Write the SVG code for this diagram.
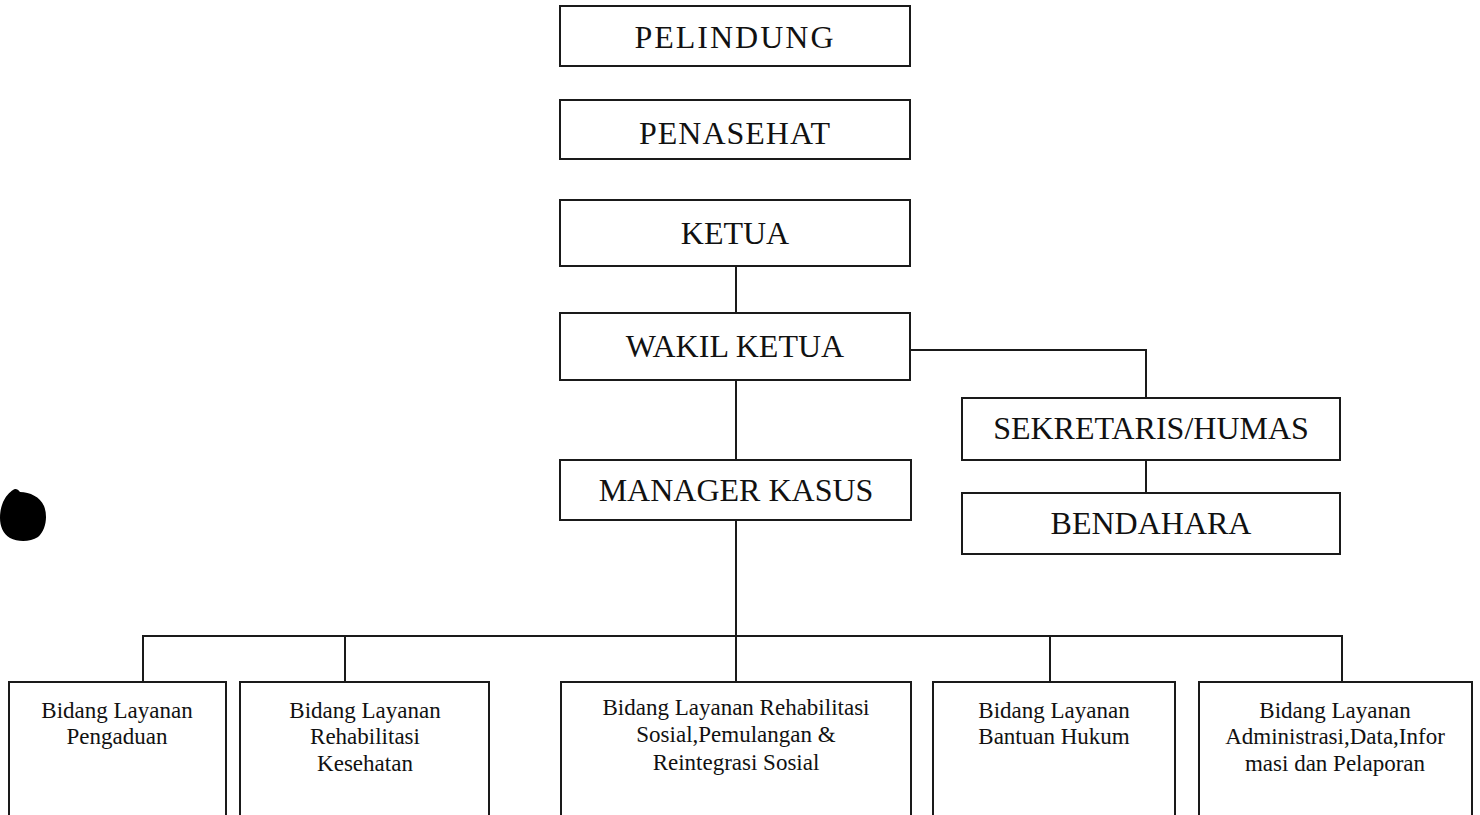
<svg xmlns="http://www.w3.org/2000/svg" width="1480" height="815" viewBox="0 0 1480 815">
<style>
.box{fill:#fff;stroke:#1a1a1a;stroke-width:2}
.con{fill:none;stroke:#1a1a1a;stroke-width:2}
.t{font-family:"Liberation Serif","Times New Roman",serif;font-size:32px;fill:#111;text-anchor:middle}
.s{font-family:"Liberation Serif","Times New Roman",serif;font-size:23px;fill:#111;text-anchor:middle}
</style>
<rect width="1480" height="815" fill="#fff"/>
<g id="connectors">
<path class="con" d="M736 266V313"/>
<path class="con" d="M736 380V460"/>
<path class="con" d="M910 350H1146V398"/>
<path class="con" d="M1146 460V493"/>
<path class="con" d="M736 520V682"/>
<path class="con" d="M143 682V636H1342V682"/>
<path class="con" d="M345 636V682"/>
<path class="con" d="M1050 636V682"/>
</g>
<g id="pelindung"><rect class="box" x="560" y="6" width="350" height="60"/><text class="t" x="735" y="48" letter-spacing="2">PELINDUNG</text></g>
<g id="penasehat"><rect class="box" x="560" y="100" width="350" height="59"/><text class="t" x="735" y="144" letter-spacing="1">PENASEHAT</text></g>
<g id="ketua"><rect class="box" x="560" y="200" width="350" height="66"/><text class="t" x="735" y="244">KETUA</text></g>
<g id="wakil-ketua"><rect class="box" x="560" y="313" width="350" height="67"/><text class="t" x="735" y="357">WAKIL KETUA</text></g>
<g id="sekretaris"><rect class="box" x="962" y="398" width="378" height="62"/><text class="t" x="1151" y="439">SEKRETARIS/HUMAS</text></g>
<g id="bendahara"><rect class="box" x="962" y="493" width="378" height="61"/><text class="t" x="1151" y="534">BENDAHARA</text></g>
<g id="manager-kasus"><rect class="box" x="560" y="460" width="351" height="60"/><text class="t" x="736" y="501">MANAGER KASUS</text></g>
<g id="bidang-pengaduan"><rect class="box" x="9" y="682" width="217" height="140"/><text class="s" x="117" y="718">Bidang Layanan</text><text class="s" x="117" y="744">Pengaduan</text></g>
<g id="bidang-kesehatan"><rect class="box" x="240" y="682" width="249" height="140"/><text class="s" x="365" y="718">Bidang Layanan</text><text class="s" x="365" y="744">Rehabilitasi</text><text class="s" x="365" y="771">Kesehatan</text></g>
<g id="bidang-sosial"><rect class="box" x="561" y="682" width="350" height="140"/><text class="s" x="736" y="715">Bidang Layanan Rehabilitasi</text><text class="s" x="736" y="742">Sosial,Pemulangan &amp;</text><text class="s" x="736" y="770">Reintegrasi Sosial</text></g>
<g id="bidang-hukum"><rect class="box" x="933" y="682" width="242" height="140"/><text class="s" x="1054" y="718">Bidang Layanan</text><text class="s" x="1054" y="744">Bantuan Hukum</text></g>
<g id="bidang-administrasi"><rect class="box" x="1199" y="682" width="273" height="140"/><text class="s" x="1335" y="718">Bidang Layanan</text><text class="s" x="1335" y="744">Administrasi,Data,Infor</text><text class="s" x="1335" y="771">masi dan Pelaporan</text></g>
<path id="blob" fill="#000" d="M2 505C5 496 10 492 13 490C15 488 18 489 20 492C30 492 40 497 44 506C48 516 46 530 38 537C30 542 18 542 10 538C3 534 0 526 0 518C0 512 1 508 2 505Z"/>
</svg>
